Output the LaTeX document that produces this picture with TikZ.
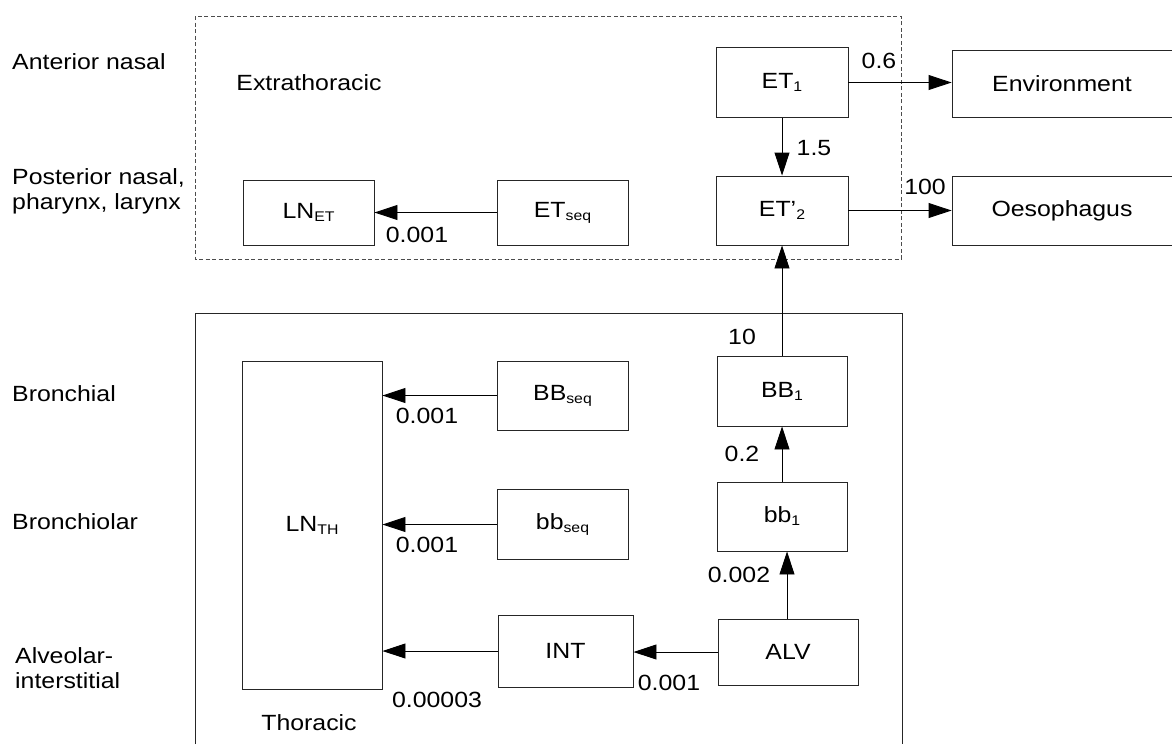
\documentclass[tikz,border=0pt]{standalone}
\usepackage{fontspec}
\setmainfont{Liberation Sans}[FakeStretch=1.13]
\usetikzlibrary{arrows.meta,positioning,calc}
\newcommand{\rtfont}{\fontsize{22}{25}\selectfont}
\newcommand{\lsub}[1]{\raisebox{-3pt}{\fontsize{14}{14}\selectfont #1}}
\tikzset{
  rt/box/.style={draw=black!85, line width=0.9pt, inner sep=0pt, align=center, font=\rtfont},
  rt/extra/.style={draw=black!70, line width=0.9pt, dash pattern=on 4pt off 2.5pt},
  rt/thorax/.style={draw=black!85, line width=0.9pt},
  rt/flow/.style={draw=black, line width=0.9pt, -{Triangle[length=23pt, width=15pt]}},
  rt/rate/.style={inner sep=0pt, font=\rtfont},
  rt/level/.style={anchor=west, inner sep=0pt, align=left, font=\rtfont},
  rt/region/.style={anchor=base, inner sep=0pt, font=\rtfont}
}

\begin{document}
\begin{tikzpicture}[x=1pt, y=-1pt]
  \useasboundingbox (0,0) rectangle (1172,744);

  % regions
  \draw[rt/extra] (195,16) rectangle (901,259);
  \draw[rt/thorax] (195,744) |- (902,313) -- (902,744);
  \node[rt/region] (extraLbl) at (309,90) {Extrathoracic};
  \node[rt/region] (thoraxLbl) at (309,730) {Thoracic};

  % airway levels
  \node[rt/level] (antNasal) at (12,62) {Anterior nasal};
  \node[rt/level] (postNasal) at (12,191) {Posterior nasal,\\pharynx, larynx};
  \node[rt/level] (bronch) at (12,394) {Bronchial};
  \node[rt/level] (bronchiol) at (12,522) {Bronchiolar};
  \node[rt/level] (alvInt) at (15,668) {Alveolar-\\interstitial};

  % compartments
  \node[rt/box, minimum width=132pt, minimum height=70pt] (et1) at (782,82.5) {ET\lsub{1}};
  \node[rt/box, minimum width=220pt, minimum height=67pt] (env) at (1062,83.5) {Environment};
  \node[rt/box, minimum width=132pt, minimum height=69pt] (et2) at (782,210.5) {ET’\lsub{2}};
  \node[rt/box, minimum width=220pt, minimum height=69pt] (oes) at (1062,210.5) {Oesophagus};
  \node[rt/box, minimum width=131pt, minimum height=65pt] (lnEt) at (308.5,212.5) {LN\lsub{ET}};
  \node[rt/box, minimum width=131pt, minimum height=65pt] (etSeq) at (562.5,212.5) {ET\lsub{seq}};

  \node[rt/box, minimum width=130pt, minimum height=70pt] (BB1) at (782,391) {BB\lsub{1}};
  \node[rt/box, minimum width=130pt, minimum height=69pt] (bb1) at (782,516.5) {bb\lsub{1}};
  \node[rt/box, minimum width=140pt, minimum height=66pt] (alv) at (788,652) {ALV};
  \node[rt/box, minimum width=135pt, minimum height=72pt] (int) at (565.5,651) {INT};
  \node[rt/box, minimum width=140pt, minimum height=328pt] (lnTh) at (312,525) {LN\lsub{TH}};
  \node[rt/box, minimum width=131pt, minimum height=69pt] (BBseq) at (562.5,395.5) {BB\lsub{seq}};
  \node[rt/box, minimum width=131pt, minimum height=70pt] (bbSeq) at (562.5,524.5) {bb\lsub{seq}};

  % transfers
  \draw[rt/flow] (et1.east) -- (et1.east -| env.west);
  \draw[rt/flow] (et1) -- (et2);
  \draw[rt/flow] (et2.east) -- (et2.east -| oes.west);
  \draw[rt/flow] (etSeq.west) -- (etSeq.west -| lnEt.east);
  \draw[rt/flow] (BB1) -- (et2);
  \draw[rt/flow] (bb1) -- (BB1);
  \draw[rt/flow] (alv.north -| 787,0) -- (bb1.south -| 787,0);
  \draw[rt/flow] (alv.west) -- (alv.west -| int.east);
  \draw[rt/flow] (int.west) -- (int.west -| lnTh.east);
  \draw[rt/flow] (BBseq.west) -- (BBseq.west -| lnTh.east);
  \draw[rt/flow] (bbSeq.west) -- (bbSeq.west -| lnTh.east);

  % rates
  \node[rt/rate] (rEnv) at (879,61) {0.6};
  \node[rt/rate] (rEt2) at (814,148) {1.5};
  \node[rt/rate] (rOes) at (925,187) {100};
  \node[rt/rate] (rLnEt) at (417,235) {0.001};
  \node[rt/rate] (rBB1) at (742,337) {10};
  \node[rt/rate] (rbb1) at (742,454) {0.2};
  \node[rt/rate] (rAlv) at (739,575) {0.002};
  \node[rt/rate] (rInt) at (669,683) {0.001};
  \node[rt/rate] (rLnTh) at (437,700) {0.00003};
  \node[rt/rate] (rBBseq) at (427,416) {0.001};
  \node[rt/rate] (rbbSeq) at (427,545) {0.001};
\end{tikzpicture}
\end{document}
